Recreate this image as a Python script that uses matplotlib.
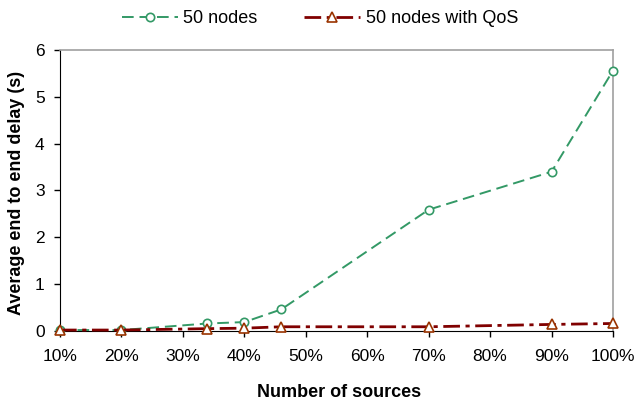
import matplotlib.pyplot as plt

plt.rcParams['font.family'] = ['Liberation Sans', 'DejaVu Sans']

sources = [10, 20, 34, 40, 46, 70, 90, 100]
delay_50 = [0.02, 0.02, 0.16, 0.19, 0.46, 2.59, 3.40, 5.56]
delay_qos = [0.02, 0.02, 0.05, 0.06, 0.09, 0.09, 0.14, 0.16]
xticks = [10, 20, 30, 40, 50, 60, 70, 80, 90, 100]

fig = plt.figure(figsize=(6.37, 4.01), dpi=100)
ax = fig.add_axes([0.0942, 0.1746, 0.8681, 0.7007])

ax.plot(sources, delay_50, color='#339966', linestyle=(0, (6, 3)), linewidth=1.4,
        marker='o', markersize=6, markerfacecolor='white', markeredgecolor='#339966',
        markeredgewidth=1.2, label='50 nodes', clip_on=False, zorder=3)
ax.plot(sources, delay_qos, color='#800000', linestyle=(0, (6, 2, 1.5, 2)), linewidth=2,
        marker='^', markersize=7, markerfacecolor='white', markeredgecolor='#993300',
        markeredgewidth=1.2, label='50 nodes with QoS', clip_on=False, zorder=4)

ax.set_xlim(10, 100)
ax.set_ylim(0, 6)
ax.set_xticks(xticks)
ax.set_xticklabels([f'{v}%' for v in xticks])
ax.set_yticks(range(7))
ax.tick_params(labelsize=12.5, direction='out', length=4, width=1)
ax.tick_params(axis='x', pad=9)
ax.tick_params(axis='y', pad=7)

for s in ['top', 'right']:
    ax.spines[s].set_color('#a0a0a0')
    ax.spines[s].set_linewidth(1.2)

ax.set_xlabel('Number of sources', fontsize=13, fontweight='bold')
ax.xaxis.set_label_coords(0.505, -0.187)
ax.set_ylabel('Average end to end delay (s)', fontsize=13, fontweight='bold')
ax.yaxis.set_label_coords(-0.064, 0.49)

fig.legend(loc='upper center', bbox_to_anchor=(0.502, 1.015), ncol=2, frameon=False,
           fontsize=13, handlelength=3.1, handletextpad=0.3, columnspacing=2.6,
           numpoints=1)

fig.savefig('out.png', dpi=100)
